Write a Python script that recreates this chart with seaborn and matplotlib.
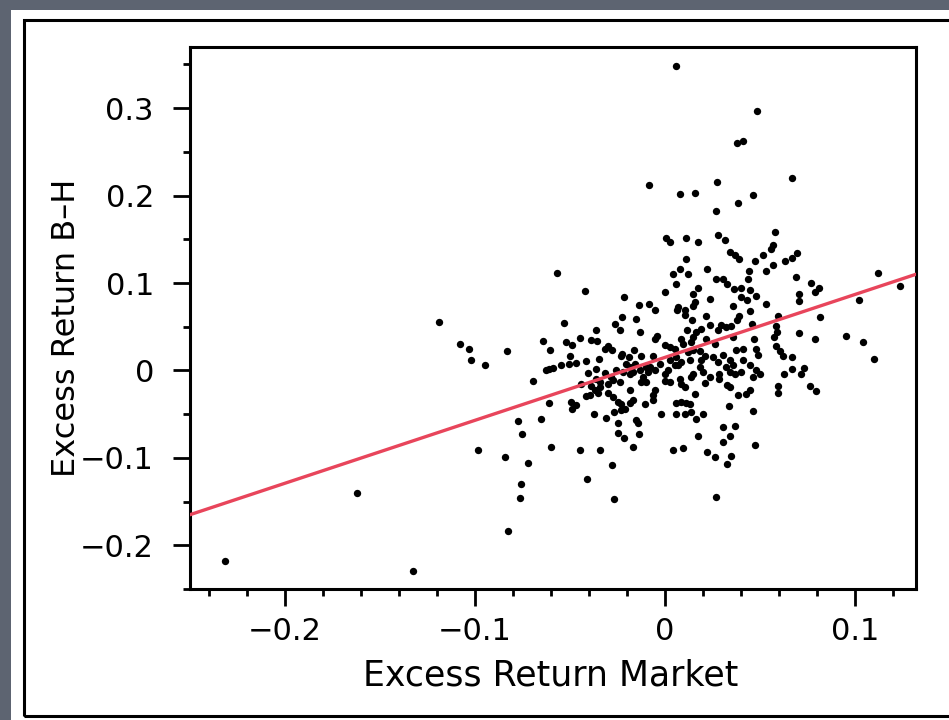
import matplotlib
matplotlib.use("Agg")
import matplotlib.pyplot as plt
from matplotlib.patches import Rectangle
from matplotlib.ticker import FixedLocator, MultipleLocator
import numpy as np
import pandas as pd
import seaborn as sns

# Monthly excess returns: market (x) against the book-to-market B-H portfolio (y)
market_excess = [
    0.0003, 0.0027, 0.0108, 0.0173, 0.0278, 0.0314, 0.0577, 0.0570, 0.0558, 0.0339,
    0.0370, 0.0391, 0.0514, 0.0472, 0.0695, 0.0668, 0.0633, 0.0111, 0.0076, 0.0041,
    0.0118, 0.0220, 0.0441, 0.0532, 0.0567, 0.0269, 0.0304, 0.0325, 0.0437, 0.0686,
    0.0059, 0.0766, 0.0171, 0.0363, 0.0397, 0.0444, -0.0003, 0.0146, 0.0400, 0.0430,
    0.0479, 0.0812, 0.0786, 0.0703, 0.0703, 0.0234, 0.0155, 0.0146, 0.0532, 0.0356,
    0.0062, 0.0067, 0.0102, 0.0102, -0.0055, 0.0444, 0.0388, 0.0377, 0.1022, 0.1122,
    0.1236, 0.0817, 0.0593, 0.0216, 0.0143, 0.0234, 0.0190, 0.0164, 0.0295, 0.0318,
    0.0344, 0.0458, 0.0581, 0.0115, 0.0278, 0.0589, 0.0575, 0.0707, 0.0356, -0.0043,
    -0.0052, 0.0952, 0.1040, 0.0791, 0.0146, 0.0138, 0.0085, 0.0094, 0.0216, 0.0465,
    0.0260, -0.0003, 0.0024, 0.0050, 0.0374, 0.0409, 0.0479, 0.0488, 0.0584, 0.0602,
    0.0619, 0.0146, 0.0181, -0.0064, 0.0120, 0.0208, 0.0059, 0.0085, 0.0067, 0.0304,
    0.0251, 0.0024, 0.0129, 0.0190, 0.0278, 0.0339, 0.0409, 0.0444, 0.0668, 0.1101,
    -0.0029, 0.0015, -0.0003, 0.0050, 0.0181, 0.0199, 0.0146, 0.0138, 0.0234, 0.0321,
    0.0339, 0.0365, 0.0286, 0.0356, 0.0400, 0.0479, 0.0497, 0.0462, 0.0624, 0.0668,
    0.0716, 0.0730, -0.0081, -0.0055, -0.0003, 0.0024, 0.0076, 0.0085, 0.0102, 0.0208,
    0.0286, 0.0325, 0.0339, 0.0593, 0.0593, 0.0763, 0.0794, 0.0427, 0.0444, 0.0383,
    -0.0055, -0.0064, 0.0155, -0.0064, 0.0055, 0.0085, 0.0111, 0.0129, 0.0335, 0.0462,
    -0.0020, 0.0059, 0.0102, 0.0138, 0.0199, 0.0164, 0.0307, 0.0365,
    0.0059, 0.0484, 0.0377, 0.0409, 0.0665, 0.0272, 0.0078, 0.0157, 0.0461, 0.0383,
    0.0269, -0.0085,
    0.0171, 0.0341, 0.0306, 0.0472, 0.0043, 0.0095, 0.0222, 0.0262, 0.0349, 0.0323,
    0.0267,
    -0.0568, -0.0421, -0.1190, -0.0533, -0.0216, -0.0138, -0.0085, -0.0225, -0.0152, -0.0262,
    -0.0239, -0.0362, -0.0130, -0.1080, -0.1033, -0.1019, -0.0947, -0.0831, -0.0645, -0.0607,
    -0.0519, -0.0488, -0.0448, -0.0391, -0.0358, -0.0318, -0.0300, -0.0279, -0.0225, -0.0230,
    -0.0164, -0.0190, -0.0125, -0.0498, -0.0348, -0.0414, -0.0467, -0.0505, -0.0549, -0.0628,
    -0.0610, -0.0589, -0.0204, -0.0160, -0.0187, -0.0362, -0.0257, -0.0406, -0.0318, -0.0099,
    -0.0090, -0.0134, -0.0695, -0.0441, -0.0362, -0.0344, -0.0283, -0.0274, -0.0222, -0.0187,
    -0.0169, -0.0116, -0.0099, -0.0125, -0.0388, -0.0344, -0.0370, -0.0353, -0.0300, -0.0239,
    -0.0187, -0.0418, -0.0393, -0.0300, -0.0274, -0.0610, -0.0493, -0.0470, -0.0488, -0.0248,
    -0.0230, -0.0187, -0.0169, -0.0108, -0.0374, -0.0269, -0.0230, -0.0213, -0.0313, -0.0773,
    -0.0651, -0.0248, -0.0152, -0.0143,
    -0.0751, -0.0985, -0.0843, -0.0721, -0.0603, -0.0446, -0.0341, -0.0248, -0.0218, -0.0138,
    -0.0169, -0.0278, -0.0409, -0.0761, -0.0765, -0.0271, -0.0829, -0.1327,
    -0.2318, -0.1621,
]

bh_excess = [
    0.1518, 0.1468, 0.1518, 0.1468, 0.1552, 0.1495, 0.1583, 0.1430, 0.1392, 0.1354,
    0.1316, 0.1278, 0.1316, 0.1251, 0.1346, 0.1289, 0.1247, 0.1278, 0.1163, 0.1098,
    0.1098, 0.1156, 0.1137, 0.1137, 0.1209, 0.1041, 0.1049, 0.0984, 0.1049, 0.1068,
    0.0984, 0.1003, 0.0946, 0.0934, 0.0946, 0.0915, 0.0896, 0.0870, 0.0839, 0.0801,
    0.0847, 0.0946, 0.0896, 0.0877, 0.0793, 0.0820, 0.0782, 0.0732, 0.0755, 0.0732,
    0.0686, 0.0725, 0.0686, 0.0629, 0.0686, 0.0675, 0.0618, 0.0572, 0.0809, 0.1117,
    0.0961, 0.0610, 0.0622, 0.0618, 0.0572, 0.0515, 0.0469, 0.0439, 0.0515, 0.0496,
    0.0503, 0.0534, 0.0503, 0.0465, 0.0458, 0.0439, 0.0381, 0.0427, 0.0381, 0.0389,
    0.0362, 0.0389, 0.0324, 0.0355, 0.0381, 0.0324, 0.0362, 0.0305, 0.0362, 0.0355,
    0.0305, 0.0286, 0.0267, 0.0248, 0.0229, 0.0248, 0.0240, 0.0172, 0.0275, 0.0221,
    0.0164, 0.0229, 0.0221, 0.0160, 0.0210, 0.0160, 0.0153, 0.0095, 0.0057, 0.0172,
    0.0153, 0.0122, 0.0114, 0.0114, 0.0095, 0.0114, 0.0122, 0.0057, 0.0153, 0.0133,
    0.0076, 0.0000, -0.0046, 0.0057, 0.0038, -0.0019, -0.0038, -0.0076, -0.0076, 0.0038,
    -0.0019, -0.0038, -0.0038, 0.0065, -0.0019, 0.0000, -0.0046, -0.0076, -0.0038, 0.0019,
    -0.0038, 0.0031, 0.0038, 0.0000, -0.0122, -0.0133, -0.0095, -0.0153, -0.0191, -0.0145,
    -0.0095, -0.0172, -0.0191, -0.0175, -0.0259, -0.0183, -0.0240, -0.0267, -0.0229, -0.0286,
    -0.0229, -0.0286, -0.0267, -0.0343, -0.0374, -0.0362, -0.0374, -0.0389, -0.0412, -0.0465,
    -0.0496, -0.0496, -0.0496, -0.0477, -0.0496, -0.0553, -0.0648, -0.0641,
    0.3480, 0.2967, 0.2605, 0.2620, 0.2197, 0.2155, 0.2022, 0.2025, 0.2010, 0.1915,
    0.1823, 0.2125,
    -0.0751, -0.0747, -0.0816, -0.0850, -0.0915, -0.0889, -0.0931, -0.0992, -0.0980, -0.1068,
    -0.1445,
    0.1117, 0.0911, 0.0553, 0.0545, 0.0835, 0.0747, 0.0763, 0.0610, 0.0591, 0.0534,
    0.0458, 0.0458, 0.0439, 0.0301, 0.0248, 0.0114, 0.0065, 0.0217, 0.0332, 0.0229,
    0.0324, 0.0286, 0.0374, 0.0343, 0.0336, 0.0248, 0.0275, 0.0229, 0.0191, 0.0160,
    0.0236, 0.0153, 0.0160, 0.0164, 0.0126, 0.0103, 0.0088, 0.0076, 0.0057, 0.0008,
    0.0019, 0.0031, 0.0076, 0.0076, 0.0038, 0.0019, 0.0008, -0.0031, -0.0031, 0.0038,
    -0.0019, 0.0000, -0.0122, -0.0160, -0.0095, -0.0133, -0.0076, -0.0107, -0.0019, -0.0038,
    -0.0019, -0.0076, -0.0133, -0.0133, -0.0183, -0.0191, -0.0221, -0.0259, -0.0153, -0.0133,
    -0.0221, -0.0294, -0.0278, -0.0259, -0.0305, -0.0370, -0.0362, -0.0400, -0.0439, -0.0362,
    -0.0389, -0.0374, -0.0343, -0.0389, -0.0503, -0.0477, -0.0458, -0.0439, -0.0542, -0.0580,
    -0.0553, -0.0603, -0.0572, -0.0603,
    -0.0728, -0.0915, -0.0992, -0.1056, -0.0877, -0.0915, -0.0912, -0.0713, -0.0774, -0.0725,
    -0.0877, -0.1079, -0.1247, -0.1304, -0.1461, -0.1465, -0.1831, -0.2292,
    -0.2177, -0.1407,
]

# Fitted least-squares line
line_intercept = 0.015
line_slope = 0.72

x_limits = (-0.25, 0.132)
y_limits = (-0.25, 0.37)
x_major = [-0.2, -0.1, 0.0, 0.1]
x_labels = ["\u22120.2", "\u22120.1", "0", "0.1"]
y_major = [-0.2, -0.1, 0.0, 0.1, 0.2, 0.3]
y_labels = ["\u22120.2", "\u22120.1", "0", "0.1", "0.2", "0.3"]

sns.set_theme(style="ticks")
plt.rcParams["font.family"] = ["DejaVu Sans"]

W, H = 949, 720
fig = plt.figure(figsize=(W / 100, H / 100), dpi=100)
fig.patch.set_facecolor("#5d6471")

# White card with a black frame around the plot
fig.add_artist(Rectangle((11 / W, 0), 1.0, 710 / H, transform=fig.transFigure,
                         facecolor="white", edgecolor="none", zorder=0))
fig.add_artist(Rectangle((24 / W, 4 / H), 1.0, 696 / H, transform=fig.transFigure,
                         facecolor="none", edgecolor="black", linewidth=2.2, zorder=1))

ax = fig.add_axes([190 / W, 131 / H, 726 / W, 542 / H])
ax.set_facecolor("white")

df = pd.DataFrame({"market": market_excess, "bh": bh_excess})
sns.scatterplot(data=df, x="market", y="bh", color="black", s=28,
                linewidth=0, ax=ax, zorder=2)

xs = np.array(x_limits)
sns.lineplot(x=xs, y=line_intercept + line_slope * xs, color="#e8455b",
             linewidth=2.4, ax=ax, zorder=3)

ax.set_xlim(*x_limits)
ax.set_ylim(*y_limits)

ax.xaxis.set_major_locator(FixedLocator(x_major))
ax.set_xticklabels(x_labels)
ax.xaxis.set_minor_locator(MultipleLocator(0.02))
ax.yaxis.set_major_locator(FixedLocator(y_major))
ax.set_yticklabels(y_labels)
ax.yaxis.set_minor_locator(MultipleLocator(0.05))

for side in ["left", "right", "top", "bottom"]:
    ax.spines[side].set_visible(True)
    ax.spines[side].set_linewidth(2.2)
    ax.spines[side].set_color("black")

ax.tick_params(which="major", direction="out", length=12, width=2, color="black",
               labelsize=22, labelcolor="black")
ax.tick_params(which="minor", direction="out", length=5, width=2, color="black")
ax.tick_params(axis="x", which="major", pad=8)
ax.tick_params(axis="y", which="major", pad=14)

ax.set_xlabel("Excess Return Market", fontsize=25, color="black")
ax.set_ylabel("Excess Return B\u2013H", fontsize=23, color="black")
ax.xaxis.label.set_verticalalignment("center")
ax.yaxis.label.set_verticalalignment("center")
ax.xaxis.set_label_coords(0.497, -0.159)
ax.yaxis.set_label_coords(-0.17, 0.482)

fig.savefig("out.png", dpi=100, facecolor=fig.get_facecolor())
